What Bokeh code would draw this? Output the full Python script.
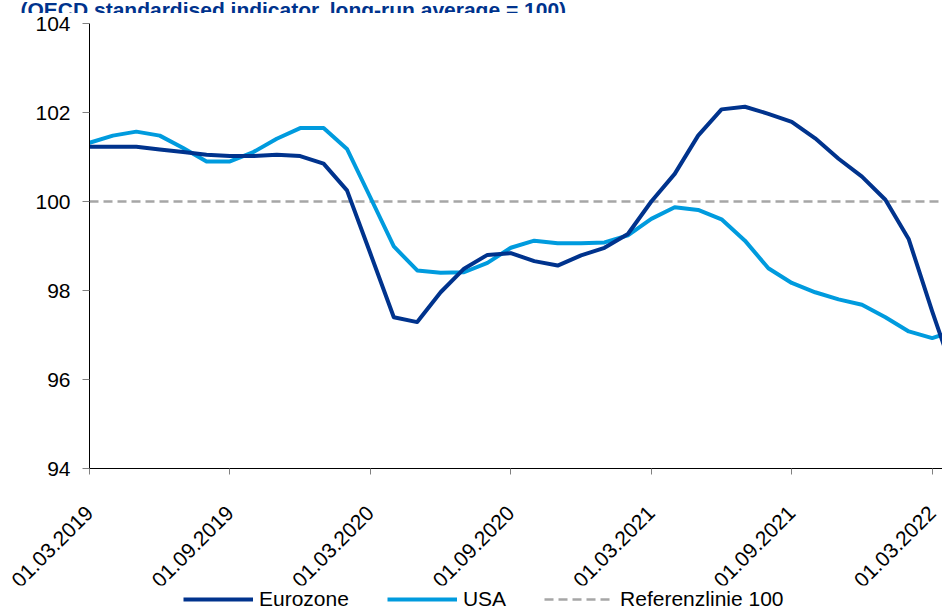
import math
from bokeh.plotting import figure
from bokeh.layouts import column
from bokeh.models import (Range1d, FixedTicker, Legend, LegendItem, Label,
                          ColumnDataSource)
from bokeh.embed import file_html
from bokeh.resources import INLINE

# ---------------- data ----------------
months = ["2019-03", "2019-04", "2019-05", "2019-06", "2019-07", "2019-08", "2019-09",
          "2019-10", "2019-11", "2019-12", "2020-01", "2020-02", "2020-03", "2020-04",
          "2020-05", "2020-06", "2020-07", "2020-08", "2020-09", "2020-10", "2020-11",
          "2020-12", "2021-01", "2021-02", "2021-03", "2021-04", "2021-05", "2021-06",
          "2021-07", "2021-08", "2021-09", "2021-10", "2021-11", "2021-12", "2022-01",
          "2022-02", "2022-03", "2022-04"]

eurozone = [101.23, 101.23, 101.23, 101.17, 101.11, 101.05, 101.02, 101.02, 101.05, 101.02,
            100.85, 100.25, 98.83, 97.40, 97.29, 97.96, 98.49, 98.80, 98.84, 98.66,
            98.56, 98.79, 98.96, 99.27, 100.00, 100.62, 101.48, 102.07, 102.13, 101.97,
            101.79, 101.42, 100.96, 100.56, 100.04, 99.15, 97.53, 96.00]

usa = [101.32, 101.48, 101.57, 101.48, 101.20, 100.90, 100.90, 101.11, 101.41, 101.65,
       101.65, 101.18, 100.09, 98.99, 98.45, 98.40, 98.41, 98.62, 98.96, 99.12,
       99.06, 99.06, 99.08, 99.24, 99.61, 99.87, 99.81, 99.60, 99.12, 98.50,
       98.17, 97.96, 97.80, 97.68, 97.40, 97.08, 96.93, 97.10]

ref_level = 100.0

x_tick_pos = [0, 6, 12, 18, 24, 30, 36]
x_tick_labels = ["01.03.2019", "01.09.2019", "01.03.2020", "01.09.2020",
                 "01.03.2021", "01.09.2021", "01.03.2022"]
y_ticks = [94, 96, 98, 100, 102, 104]

title_text = "(OECD standardised indicator, long-run average = 100)"
series_names = ["Eurozone", "USA", "Referenzlinie 100"]

# ---------------- styles ----------------
FONT = "Liberation Sans"
EU_COL = "#00338D"
US_COL = "#009BDE"
REF_COL = "#A6A6A6"
W = 942

x = list(range(len(months)))
src = ColumnDataSource(dict(x=x, eu=eurozone, us=usa, ref=[ref_level] * len(months)))


def bare(fig):
    fig.outline_line_color = None
    fig.xgrid.visible = False
    fig.ygrid.visible = False
    fig.background_fill_color = "white"
    fig.border_fill_color = "white"


def add_series(fig):
    r_ref = fig.line("x", "ref", source=src, line_color=REF_COL, line_width=2.5,
                     line_dash="9 5")
    r_us = fig.line("x", "us", source=src, line_color=US_COL, line_width=4,
                    line_join="round")
    r_eu = fig.line("x", "eu", source=src, line_color=EU_COL, line_width=4,
                    line_join="round")
    return r_eu, r_us, r_ref


# ---------------- title strip (cut at the top, as in the source) ----------------
pt = figure(width=W, height=13, output_backend="svg", toolbar_location=None,
            x_axis_location=None, y_axis_location=None,
            x_range=Range1d(0, 1), y_range=Range1d(0, 1), frame_align=False,
            min_border_left=0, min_border_right=0, min_border_top=0, min_border_bottom=0)
bare(pt)
pt.add_layout(Label(x=20, y=4.5, x_units="screen", y_units="screen", text=title_text,
                    text_font=FONT, text_font_style="bold", text_font_size="21px",
                    text_color=EU_COL, text_baseline="alphabetic"))

# ---------------- main chart ----------------
p = figure(frame_width=853, frame_height=445, output_backend="svg", toolbar_location=None,
           x_range=Range1d(0, 36.44), y_range=Range1d(94, 104), frame_align=False,
           min_border_left=89, min_border_right=0, min_border_top=10,
           min_border_bottom=116)
bare(p)
add_series(p)

# y axis
ya = p.yaxis[0]
ya.ticker = FixedTicker(ticks=y_ticks)
ya.major_label_text_font = FONT
ya.major_label_text_font_size = "21px"
ya.major_label_text_color = "black"
ya.major_tick_out = 7
ya.major_tick_in = 0
ya.minor_tick_out = 0
ya.minor_tick_in = 0
ya.major_tick_line_color = "#808080"
ya.axis_line_color = "black"
ya.major_label_standoff = 12

# x axis
xa = p.xaxis[0]
xa.ticker = FixedTicker(ticks=x_tick_pos)
xa.major_label_overrides = {t: l for t, l in zip(x_tick_pos, x_tick_labels)}
xa.major_label_orientation = math.pi / 4
xa.major_label_text_font = FONT
xa.major_label_text_font_size = "21px"
xa.major_label_text_color = "black"
xa.major_label_standoff = 35
xa.major_tick_out = 6
xa.major_tick_in = 0
xa.minor_tick_out = 0
xa.minor_tick_in = 0
xa.major_tick_line_color = "#808080"
xa.axis_line_color = "black"

# ---------------- legend strip ----------------
pl = figure(width=W, height=22, output_backend="svg", toolbar_location=None,
            x_axis_location=None, y_axis_location=None,
            x_range=Range1d(0, 1), y_range=Range1d(0, 1), frame_align=False,
            min_border_left=0, min_border_right=0, min_border_top=0, min_border_bottom=0,
            margin=(-11, 0, 0, 0))
bare(pl)
l_eu, l_us, l_ref = add_series(pl)   # same series, outside this strip's view

legend = Legend(items=[LegendItem(label=series_names[0], renderers=[l_eu]),
                       LegendItem(label=series_names[1], renderers=[l_us]),
                       LegendItem(label=series_names[2], renderers=[l_ref])],
                location=(183, -4), orientation="horizontal",
                glyph_width=70, glyph_height=20, label_standoff=6, spacing=38,
                padding=0, margin=0, border_line_color=None,
                background_fill_alpha=0,
                label_text_font=FONT, label_text_font_size="21px",
                label_text_color="black")
pl.add_layout(legend)

layout = column(pt, p, pl, spacing=0)
open("out.html", "w").write(file_html(layout, INLINE))
